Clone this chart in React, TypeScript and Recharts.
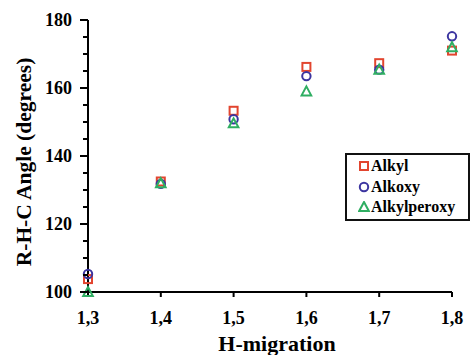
import { ScatterChart, Scatter, XAxis, YAxis } from 'recharts'

const migration = [1.3, 1.4, 1.5, 1.6, 1.7, 1.8]
const alkyl = [103.8, 132.5, 153.3, 166.2, 167.3, 171.0]
const alkoxy = [105.3, 131.8, 150.8, 163.5, 165.4, 175.2]
const alkylperoxy = [100.0, 132.0, 149.6, 159.0, 165.4, 172.0]

const xTicks = [1.3, 1.4, 1.5, 1.6, 1.7, 1.8]
const yTicks = [100, 105, 110, 115, 120, 125, 130, 135, 140, 145, 150, 155, 160, 165, 170, 175, 180]

const RED = '#e2452f'
const BLUE = '#3c35a0'
const GREEN = '#2fae62'
const FONT = 'Liberation Serif'

const toRows = (ys: number[]) => migration.map((x, i) => ({ x, y: ys[i] }))

const series = [
  { name: 'Alkyl', data: toRows(alkyl), color: RED, kind: 'square' },
  { name: 'Alkoxy', data: toRows(alkoxy), color: BLUE, kind: 'circle' },
  { name: 'Alkylperoxy', data: toRows(alkylperoxy), color: GREEN, kind: 'triangle' },
]

function Marker({ cx, cy, kind, color }: any) {
  if (cx == null || cy == null) return null
  if (kind === 'square') {
    return <rect x={cx - 4} y={cy - 4} width={8} height={8} fill="none" stroke={color} strokeWidth={2} />
  }
  if (kind === 'circle') {
    return <circle cx={cx} cy={cy} r={4.2} fill="none" stroke={color} strokeWidth={2} />
  }
  return (
    <polygon
      points={`${cx},${cy - 5} ${cx + 4.8},${cy + 4} ${cx - 4.8},${cy + 4}`}
      fill="none"
      stroke={color}
      strokeWidth={2}
    />
  )
}

// recharts puts the tick x at axis - tickSize(6) - tickMargin(2)
function YTick({ x, y, payload }: any) {
  const axisX = x + 8
  const major = payload.value % 20 === 0
  const len = major ? 8 : 5
  return (
    <g>
      <line x1={axisX} x2={axisX - len} y1={y} y2={y} stroke="#000" strokeWidth={2} />
      {major && (
        <text
          x={axisX - 16}
          y={y}
          dy={6}
          textAnchor="end"
          style={{ fontFamily: FONT, fontWeight: 'bold', fontSize: 18 }}
          fill="#000"
        >
          {payload.value}
        </text>
      )}
    </g>
  )
}

function XTitle({ viewBox }: any) {
  const { x, y, width } = viewBox
  return (
    <text
      x={x + width / 2 + 7}
      y={y + 59}
      textAnchor="middle"
      style={{ fontFamily: FONT, fontWeight: 'bold', fontSize: 22 }}
      fill="#000"
    >
      H-migration
    </text>
  )
}

function YTitle({ viewBox }: any) {
  const { y, height } = viewBox
  const cy = y + height / 2 + 6
  return (
    <text
      transform={`translate(31,${cy}) rotate(-90)`}
      textAnchor="middle"
      style={{ fontFamily: FONT, fontWeight: 'bold', fontSize: 21.5 }}
      fill="#000"
    >
      R-H-C Angle (degrees)
    </text>
  )
}

function LegendBox() {
  return (
    <div
      style={{
        position: 'absolute',
        left: 345,
        top: 153,
        border: '2px solid #111',
        width: 125,
        height: 68,
        boxSizing: 'border-box',
        padding: '1px 0 0 11px',
        background: '#fff',
        fontFamily: FONT,
        fontWeight: 'bold',
        fontSize: 16,
        lineHeight: '20.5px',
      }}
    >
      {series.map((s) => (
        <div key={s.name} style={{ display: 'flex', alignItems: 'center' }}>
          <svg width={12} height={12} style={{ marginRight: 1 }}>
            <Marker cx={6} cy={6} kind={s.kind} color={s.color} />
          </svg>
          <span style={{ color: '#000' }}>{s.name}</span>
        </div>
      ))}
    </div>
  )
}

export default function App() {
  return (
    <div style={{ position: 'absolute', left: 0, top: 0, width: 476, height: 355, background: '#fff', fontFamily: FONT }}>
      <ScatterChart
        width={476}
        height={355}
        margin={{ top: 20, right: 24, left: 30, bottom: 20 }}
        style={{ fontFamily: FONT }}
      >
        <XAxis
          type="number"
          dataKey="x"
          domain={[1.3, 1.8]}
          ticks={xTicks}
          height={43}
          axisLine={{ stroke: '#000', strokeWidth: 2 }}
          tickLine={{ stroke: '#000', strokeWidth: 2 }}
          tickSize={5}
          tickMargin={14}
          tickFormatter={(v: number) => v.toFixed(1).replace('.', ',')}
          tick={{ fill: '#000', fontSize: 18, fontWeight: 'bold', fontFamily: FONT }}
          label={{ content: (p: any) => <XTitle {...p} /> }}
        />
        <YAxis
          type="number"
          dataKey="y"
          domain={[100, 180]}
          ticks={yTicks}
          interval={0}
          width={58}
          axisLine={{ stroke: '#000', strokeWidth: 2 }}
          tickLine={false}
          tick={<YTick />}
          label={{ content: (p: any) => <YTitle {...p} /> }}
        />
        {series.map((s) => (
          <Scatter
            key={s.name}
            name={s.name}
            data={s.data}
            isAnimationActive={false}
            shape={(p: any) => <Marker cx={p.cx} cy={p.cy} kind={s.kind} color={s.color} />}
          />
        ))}
      </ScatterChart>
      <LegendBox />
    </div>
  )
}
